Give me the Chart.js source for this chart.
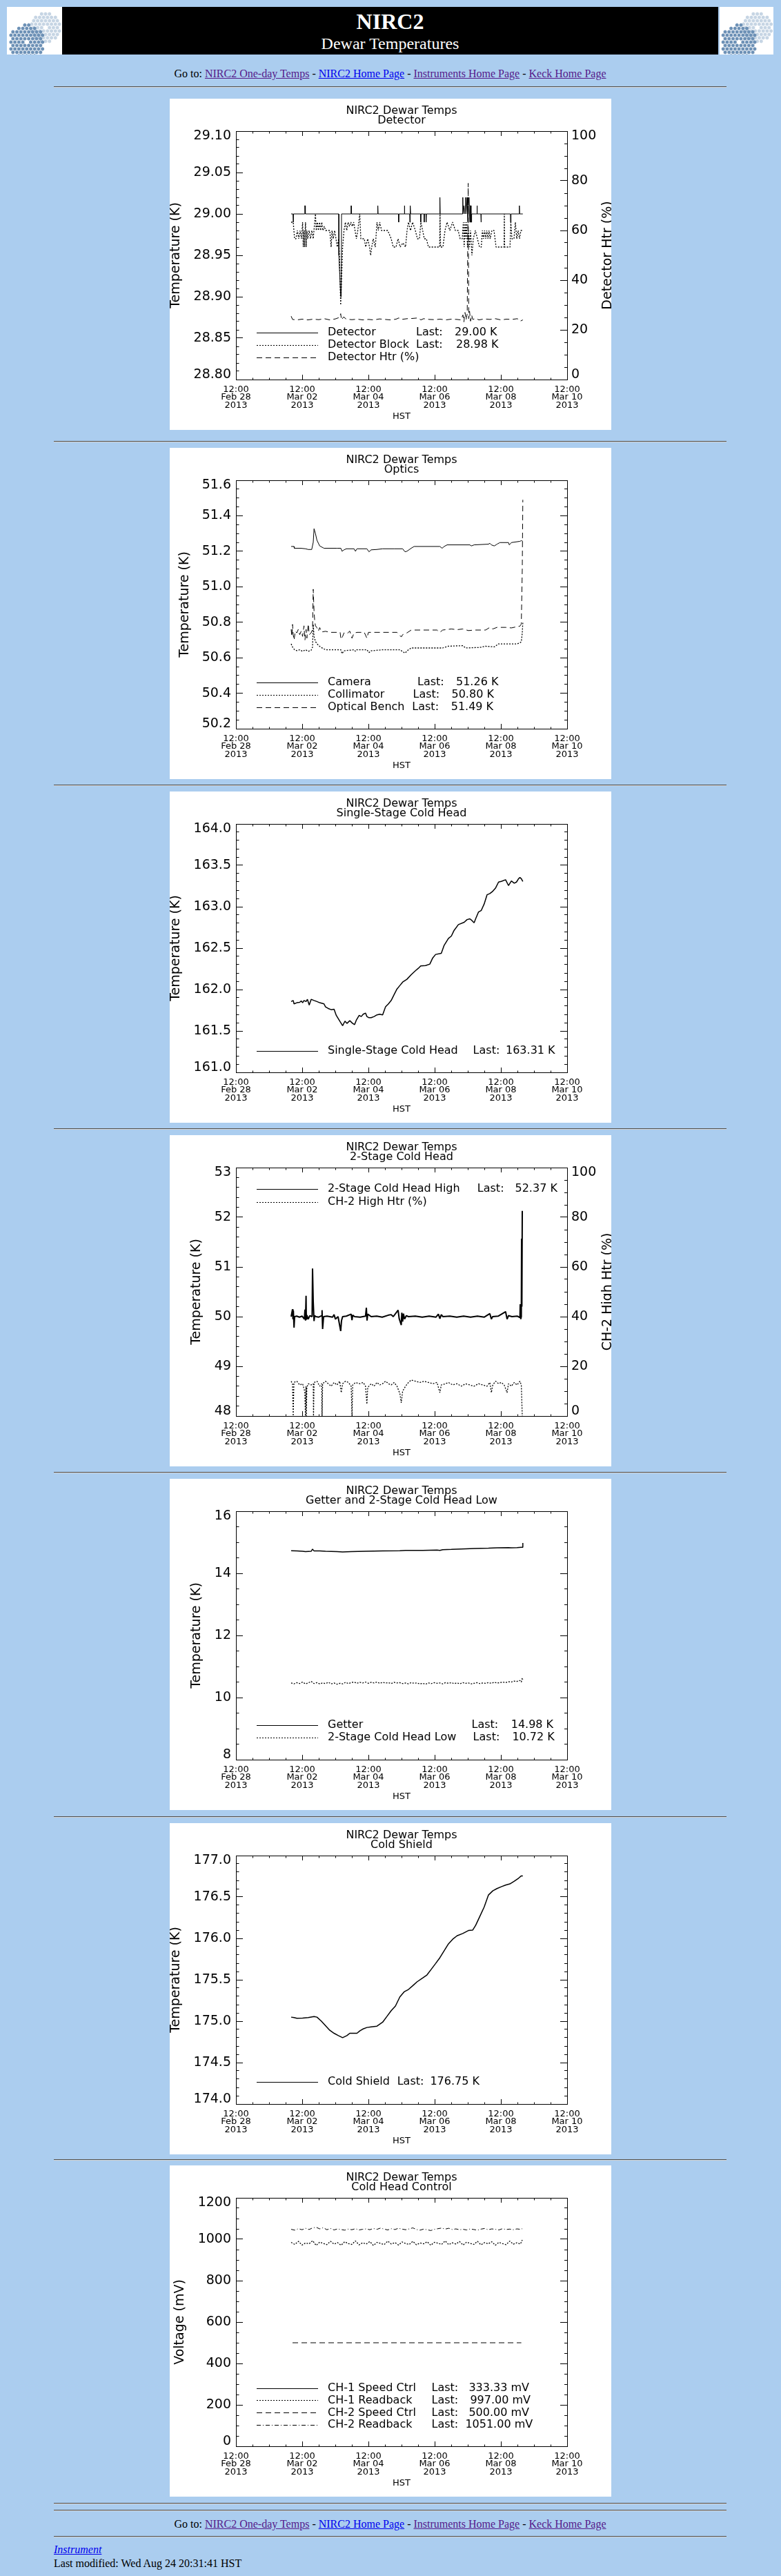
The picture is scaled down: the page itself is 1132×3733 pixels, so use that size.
<!DOCTYPE html>
<html>
<head>
<meta charset="utf-8">
<title>NIRC2 Dewar Temperatures</title>
<script src="https://cdn.jsdelivr.net/npm/chart.js@4.4.1/dist/chart.umd.min.js"></script>
<style>
html,body{margin:0;padding:0;background:#abcdef;}
body{width:1132px;height:3733px;position:relative;overflow:hidden;font-family:"Liberation Serif","Times New Roman",serif;color:#000;}
.abs{position:absolute;}
.hr{position:absolute;left:78px;width:975px;height:0;border-top:1px solid #505050;border-bottom:1px solid #d2d2d2;}
.nav{position:absolute;left:0;width:1131px;text-align:center;font-size:16px;line-height:16px;white-space:nowrap;}
a.v{color:#551a8b;} a.u{color:#0000ee;}
.panel{position:absolute;left:246px;width:640px;height:480px;background:#fff;overflow:hidden;}
.panel canvas{display:block;}
.foot{position:absolute;left:78px;font-size:16px;line-height:16px;white-space:nowrap;}
</style>
</head>
<body>
<div class="abs" id="logoL" style="left:10px;top:10px;width:80px;height:69px;background:#fff"></div>
<div class="abs" style="left:90px;top:10px;width:951px;height:69px;background:#000"></div>
<div class="abs" id="logoR" style="left:1043px;top:10px;width:78px;height:69px;background:#fff"></div>
<div class="abs" style="left:90px;width:951px;top:14.9px;text-align:center;color:#fff;font-size:32px;line-height:32px;font-weight:bold">NIRC2</div>
<div class="abs" style="left:90px;width:951px;top:50.6px;text-align:center;color:#fff;font-size:24px;line-height:24px">Dewar Temperatures</div>

<div class="nav" style="top:99.3px">Go to: <a class="v" href="#">NIRC2 One-day Temps</a> - <a class="u" href="#">NIRC2 Home Page</a> - <a class="v" href="#">Instruments Home Page</a> - <a class="v" href="#">Keck Home Page</a></div>
<div class="hr" style="top:125px"></div>

<div class="panel" style="top:143px"><canvas id="c1" width="640" height="480"></canvas></div>
<div class="hr" style="top:639px"></div>
<div class="panel" style="top:649px"><canvas id="c2" width="640" height="480"></canvas></div>
<div class="hr" style="top:1137px"></div>
<div class="panel" style="top:1147px"><canvas id="c3" width="640" height="480"></canvas></div>
<div class="hr" style="top:1635px"></div>
<div class="panel" style="top:1645px"><canvas id="c4" width="640" height="480"></canvas></div>
<div class="hr" style="top:2133px"></div>
<div class="panel" style="top:2143px"><canvas id="c5" width="640" height="480"></canvas></div>
<div class="hr" style="top:2632px"></div>
<div class="panel" style="top:2642px"><canvas id="c6" width="640" height="480"></canvas></div>
<div class="hr" style="top:3129px"></div>
<div class="panel" style="top:3138px"><canvas id="c7" width="640" height="480"></canvas></div>
<div class="hr" style="top:3627px"></div>
<div class="hr" style="top:3637px"></div>
<div class="nav" style="top:3650px">Go to: <a class="v" href="#">NIRC2 One-day Temps</a> - <a class="u" href="#">NIRC2 Home Page</a> - <a class="v" href="#">Instruments Home Page</a> - <a class="v" href="#">Keck Home Page</a></div>
<div class="hr" style="top:3675px"></div>
<div class="foot" style="top:3687px"><a class="u" href="#"><i>Instrument</i></a></div>
<div class="foot" style="top:3707px">Last modified: Wed Aug 24 20:31:41 HST</div>

<script>
// ---------------- common axis data ----------------
// x values are hours after Feb 28 2013 12:00 HST
const X_TICK_HOURS = [0, 48, 96, 144, 192, 240];
const X_TICK_TEXT = [
  ['12:00', 'Feb 28', '2013'], ['12:00', 'Mar 02', '2013'], ['12:00', 'Mar 04', '2013'],
  ['12:00', 'Mar 06', '2013'], ['12:00', 'Mar 08', '2013'], ['12:00', 'Mar 10', '2013']
];
const PCT_TICKS = ['0', '20', '40', '60', '80', '100'];

// ---------------- chart 1: Detector ----------------
const title1 = ['NIRC2 Dewar Temps', 'Detector'];
const yTicks1 = ['28.80', '28.85', '28.90', '28.95', '29.00', '29.05', '29.10'];
const names1 = ['Detector', 'Detector Block', 'Detector Htr (%)'];
const last1 = ['29.00 K', '28.98 K', ''];
const detector = [
  [40.0,29.00],[41.3,29.00],[41.5,28.99],[41.7,29.00],
  [49.7,29.00],[49.9,29.01],[50.1,29.01],[50.3,29.00],
  [74.5,29.00],[74.6,28.95],[75.9,28.90],[76.3,28.90],[76.5,29.00],
  [83.4,29.00],[83.5,29.01],[83.7,29.00],
  [102.7,29.00],[102.8,29.01],[103.0,29.00],
  [117.8,29.00],[117.9,28.99],[118.1,29.00],
  [122.0,29.00],[122.1,29.01],[122.3,29.00],
  [125.9,29.00],[126.0,28.99],[126.2,29.00],[126.4,29.01],[126.6,29.00],
  [133.8,29.00],[133.9,28.99],[134.1,29.00],
  [136.3,29.00],[136.4,28.99],[136.6,29.00],[137.7,29.00],[137.8,28.99],[138.0,29.00],
  [147.7,29.00],[147.8,29.02],[148.0,29.00],
  [164.2,29.00],[164.4,29.02],[164.6,29.00],[165.0,29.01],[165.4,29.01],[165.8,29.00],
  [166.2,29.01],[166.4,29.02],[166.7,29.00],[167.2,29.01],[167.5,29.02],[167.8,29.00],
  [168.1,28.99],[168.5,29.01],[168.9,29.02],[169.2,29.00],[169.5,28.99],[169.8,29.01],
  [170.2,29.01],[170.4,28.99],[170.6,28.99],[170.8,29.00],
  [174.6,29.00],[174.7,29.01],[174.9,29.00],
  [177.5,29.00],[177.6,28.99],[177.8,29.00],
  [198.9,29.00],[199.0,28.99],[199.3,28.99],[199.4,29.00],
  [205.3,29.00],[205.4,29.01],[205.6,29.00],[207.9,29.00]
];
const detectorBlock = [
  [40.0,28.99],[41.5,28.99],[42.5,28.97],[43.5,28.97],[44.5,28.98],[45.5,28.97],[46.5,28.98],[47.5,28.97],
  [48.3,28.99],[48.8,28.96],[49.3,28.98],[49.8,28.96],[50.4,28.99],[50.9,28.96],[51.4,28.98],[52.0,28.97],
  [53.0,28.98],[54.0,28.97],[55.0,28.98],[56.0,28.97],[57.6,29.00],[58.2,28.98],[59.0,28.99],[59.8,28.98],
  [60.6,28.99],[61.4,28.98],[62.2,28.99],[63.0,28.98],[64.0,28.985],[65.0,28.98],[66.5,28.98],[68.0,28.98],
  [69.0,28.96],[69.6,28.98],[70.5,28.97],[71.5,28.98],[72.5,28.97],[73.4,28.96],[74.4,28.97],[75.0,28.95],
  [75.9,28.89],[76.5,28.92],[77.3,28.96],[78.3,28.98],[79.3,28.99],[80.3,28.98],[81.3,28.99],[82.3,28.985],
  [83.3,28.99],[84.3,28.985],[85.3,28.99],[86.3,28.98],[87.3,28.97],[88.3,28.98],[89.7,29.00],[90.5,28.97],
  [91.8,28.97],[93.0,28.97],[94.0,28.96],[95.5,28.97],[96.8,28.96],[97.6,28.95],[98.4,28.96],[99.5,28.97],
  [101.0,28.96],[102.2,28.99],[103.2,28.98],[104.2,28.99],[105.5,28.98],[107.5,28.98],[110.0,28.98],[112.5,28.97],
  [114.0,28.96],[116.0,28.96],[117.5,28.97],[119.0,28.96],[121.0,28.965],[122.9,28.96],[124.0,28.98],[125.0,28.99],
  [126.5,28.98],[128.0,28.99],[130.0,28.98],[131.5,28.97],[133.0,28.97],[134.0,28.99],[135.3,28.98],[136.5,28.97],
  [138.0,28.97],[139.5,28.96],[142.0,28.96],[145.0,28.96],[147.6,28.96],[147.9,29.00],[148.3,28.96],[150.0,28.96],
  [151.5,28.98],[153.0,28.99],[155.0,28.98],[157.0,28.99],[159.0,28.98],[161.0,28.98],[162.5,28.97],[164.0,28.97],
  [164.8,28.99],[165.4,28.96],[166.0,28.99],[166.6,28.97],[167.2,28.99],[167.8,28.96],[168.5,28.98],[169.2,28.96],
  [170.0,28.98],[171.0,28.95],[172.0,28.97],[173.5,28.98],[175.0,28.97],[176.5,28.96],[177.8,28.96],[178.6,28.98],
  [179.4,28.97],[180.2,28.98],[181.0,28.97],[181.8,28.98],[182.6,28.97],[183.4,28.98],[184.2,28.97],[185.5,28.98],
  [187.0,28.98],[188.5,28.96],[191.0,28.96],[194.3,28.96],[194.5,29.00],[194.7,28.96],[197.0,28.96],[198.6,28.96],
  [199.2,28.99],[200.0,28.97],[201.5,28.97],[202.5,28.99],[203.5,28.97],[204.5,28.98],[205.5,28.97],[206.5,28.98],
  [207.9,28.98]
];
const detectorHtr = [
  [40.0,25.5],[41.0,24.2],[44,24.0],[48,24.3],[52,24.0],[56,24.3],[60,24.1],[64,24.5],[68,24.0],[72,24.4],
  [75.0,25.0],[75.9,26.5],[76.5,24.0],[78,25.2],[80,24.3],[84,24.1],[88,24.3],[92,24.0],[96,24.2],[100,24.0],
  [104,24.4],[108,24.2],[112,24.0],[116,24.3],[118,24.8],[120,24.2],[124,24.5],[128,24.6],[132,24.8],[134,24.0],
  [136,24.5],[140,24.2],[144,24.1],[148,24.3],[152,24.0],[156,24.3],[160,24.2],[163,24.0],[164.5,26.0],[165.2,23.2],
  [166.0,27.0],[166.8,24.0],[167.6,26.5],[168.3,79.0],[168.7,24.5],[169.3,27.5],[170.0,23.5],[170.8,26.0],[171.6,24.2],
  [174,24.6],[176,24.0],[180,24.4],[184,24.2],[188,24.5],[192,24.0],[196,24.3],[200,24.2],[204,24.5],[206,23.5],[207.9,24.0]
];

// ---------------- chart 2: Optics ----------------
const title2 = ['NIRC2 Dewar Temps', 'Optics'];
const yTicks2 = ['50.2', '50.4', '50.6', '50.8', '51.0', '51.2', '51.4', '51.6'];
const names2 = ['Camera', 'Collimator', 'Optical Bench'];
const last2 = ['51.26 K', '50.80 K', '51.49 K'];
const camera = [
  [40.0,51.227],[42.0,51.227],[42.3,51.217],[47.0,51.217],[50.4,51.214],[52.4,51.21],[54.9,51.21],[56.0,51.25],
  [56.6,51.327],[57.6,51.30],[58.7,51.262],[60.7,51.23],[63.8,51.217],[73.2,51.217],[76.0,51.217],[76.9,51.20],
  [78.3,51.208],[80,51.214],[85.6,51.214],[86.6,51.20],[87.7,51.214],[94.9,51.214],[96.4,51.197],[98.0,51.208],
  [102,51.21],[106.3,51.214],[114.6,51.214],[120.8,51.214],[122.5,51.197],[123.9,51.20],[127.0,51.217],[129.1,51.227],
  [147.8,51.227],[149.4,51.217],[150.9,51.227],[153.0,51.236],[169.5,51.236],[170.6,51.23],[172.6,51.236],[183.0,51.24],
  [184.0,51.245],[185.1,51.236],[187.2,51.23],[189.2,51.24],[191.3,51.249],[197.5,51.249],[198.1,51.236],[199.6,51.249],
  [205.8,51.256],[206.8,51.26],[207.9,51.256]
];
const collimator = [
  [40.0,50.678],[41.0,50.66],[42.5,50.645],[44.1,50.64],[46.2,50.645],[48.3,50.636],[50.4,50.645],[52.4,50.636],
  [54.5,50.642],[55.5,50.66],[56.0,50.788],[56.6,50.72],[57.6,50.691],[59.7,50.67],[61.8,50.658],[64.9,50.645],
  [73.2,50.645],[76.0,50.645],[76.9,50.623],[78.3,50.639],[85.6,50.645],[86.6,50.636],[87.7,50.645],[94.9,50.645],
  [96.4,50.629],[98.0,50.639],[106.3,50.645],[118.8,50.645],[122.5,50.626],[125.0,50.645],[127.0,50.655],[149.8,50.655],
  [154.0,50.665],[164.4,50.668],[166.4,50.655],[176.8,50.658],[180.9,50.665],[187.2,50.661],[190.3,50.678],[203.7,50.678],
  [205.8,50.684],[206.8,50.69],[207.5,50.74],[207.9,50.80]
];
const opticalBench = [
  [40.0,50.76],[40.5,50.72],[41.0,50.788],[41.5,50.73],[42.1,50.70],[43.0,50.75],[44.1,50.74],[45.2,50.76],
  [46.2,50.73],[47.3,50.75],[48.3,50.72],[49.3,50.78],[50.0,50.70],[50.8,50.76],[51.4,50.71],[52.4,50.79],
  [53.1,50.73],[54.5,50.74],[55.5,50.76],[56.0,50.986],[56.6,50.86],[57.0,50.814],[57.6,50.78],[58.7,50.769],
  [59.7,50.75],[60.7,50.77],[62.0,50.745],[64.9,50.749],[68.0,50.743],[73.2,50.743],[75.5,50.743],[76.1,50.704],
  [77.3,50.72],[78.3,50.74],[80.4,50.735],[82.5,50.75],[84.1,50.71],[85.6,50.74],[88.0,50.743],[93.0,50.743],
  [94.9,50.710],[96.0,50.743],[100,50.743],[110,50.743],[116.7,50.743],[119.8,50.717],[120.8,50.73],[123.9,50.74],
  [127.0,50.756],[140,50.756],[145.7,50.756],[147.8,50.743],[149.8,50.756],[156.1,50.762],[160.2,50.758],[164.4,50.762],
  [168.5,50.753],[172.6,50.756],[180.9,50.756],[184.0,50.771],[186.1,50.762],[189.2,50.771],[195.4,50.771],[199.6,50.768],
  [203.7,50.775],[205.8,50.778],[206.8,50.79],[207.5,51.10],[207.9,51.49]
];

// ---------------- chart 3: Single-Stage Cold Head ----------------
const title3 = ['NIRC2 Dewar Temps', 'Single-Stage Cold Head'];
const yTicks3 = ['161.0', '161.5', '162.0', '162.5', '163.0', '163.5', '164.0'];
const names3 = ['Single-Stage Cold Head'];
const last3 = ['163.31 K'];
const singleStage = [
  [40.0,161.855],[41.5,161.868],[42.1,161.827],[44.1,161.841],[46.2,161.846],[47.3,161.863],[48.3,161.841],[49.3,161.868],
  [50.8,161.855],[51.8,161.882],[53.1,161.813],[54.5,161.882],[56.6,161.868],[58.7,161.855],[60.7,161.841],[63.8,161.827],
  [64.9,161.791],[66.9,161.771],[69.0,161.757],[71.1,161.763],[72.7,161.688],[75.2,161.619],[77.3,161.563],[79.0,161.619],
  [80.4,161.591],[82.5,161.624],[84.6,161.591],[86.0,161.577],[87.3,161.633],[89.3,161.688],[90.8,161.674],[92.2,161.702],
  [93.9,161.716],[94.9,161.674],[96.4,161.660],[98.0,161.660],[100.1,161.674],[102.2,161.694],[104.2,161.702],[106.3,161.694],
  [108.4,161.791],[110.5,161.827],[112.5,161.868],[114.6,161.938],[116.7,162.007],[118.8,162.049],[120.8,162.090],[123.9,162.124],
  [127.0,162.179],[130.2,162.229],[132.2,162.257],[133.9,162.285],[137.4,162.290],[140.5,162.307],[142.6,162.382],[144.7,162.424],
  [148.8,162.437],[150.9,162.535],[154.0,162.618],[156.1,162.646],[158.1,162.715],[161.2,162.784],[165.4,162.812],[167.5,162.845],
  [169.5,162.854],[171.0,162.834],[172.6,162.807],[173.7,162.854],[175.8,162.937],[177.8,162.956],[179.9,163.034],[182.0,163.145],
  [184.0,163.159],[186.1,163.187],[188.2,163.228],[190.3,163.298],[192.3,163.306],[195.4,163.326],[197.5,163.256],[199.6,163.312],
  [201.7,163.284],[203.3,163.298],[204.8,163.339],[205.8,163.353],[206.8,163.339],[207.9,163.306]
];

// ---------------- chart 4: 2-Stage Cold Head ----------------
const title4 = ['NIRC2 Dewar Temps', '2-Stage Cold Head'];
const yTicks4 = ['48', '49', '50', '51', '52', '53'];
const names4 = ['2-Stage Cold Head High', 'CH-2 High Htr (%)'];
const last4 = ['52.37 K', ''];
const twoStageHigh = [
  [40.0,50.0],[41.0,50.15],[41.3,49.95],[41.6,50.12],[42.1,49.78],[42.5,50.0],[44,50.01],[46,49.99],[48,50.01],
  [49.6,49.95],[50.0,50.14],[50.4,49.92],[50.8,50.42],[51.0,49.95],[51.4,50.03],[52.4,49.95],[53.5,50.02],[55.2,50.0],
  [55.5,50.97],[56.0,50.30],[56.6,49.91],[57.0,50.02],[58,50.0],[60,49.99],[62.2,50.02],[62.4,50.13],[62.8,49.75],
  [63.5,50.0],[66,50.01],[70,49.99],[71.1,50.04],[72.1,49.95],[74,50.0],[75.9,49.71],[76.5,49.92],[77.3,50.0],
  [80,50.01],[83.5,50.05],[84.1,49.93],[84.6,50.03],[86,50.0],[90,49.99],[93.9,50.01],[94.5,50.18],[95.0,49.92],
  [95.5,50.05],[98,50.0],[102,50.01],[106,49.99],[110.5,50.03],[112.5,50.04],[114,50.0],[117.5,50.13],[118.3,49.96],
  [119.8,49.83],[120.2,50.08],[120.8,49.90],[121.4,50.06],[122.2,49.95],[123.5,50.02],[125,50.0],[130,50.01],[135,49.99],
  [140,50.01],[145,49.99],[146.7,50.05],[147.8,49.96],[148.8,50.04],[150,50.0],[155,50.01],[160,49.99],[165,50.01],
  [170,49.99],[175,50.01],[180,49.99],[184.0,50.06],[185.1,49.95],[186,50.0],[190,50.01],[195.4,50.1],[196.5,49.95],
  [197.5,50.02],[200,50.0],[204,50.01],[205.8,49.98],[206.0,50.25],[206.4,49.95],[206.8,50.0],[207.0,51.57],[207.2,50.2],
  [207.5,52.13]
];
const ch2HighHtr = [
  [40.0,14.0],[41.0,13.0],[41.5,0],[42.0,13.5],[44.1,14.0],[46.2,12.5],[48.3,13.0],[49.8,10.0],[50.4,0],[50.8,12.0],
  [51.0,0],[51.4,11.5],[52.4,13.0],[54.5,12.5],[56.0,13.0],[56.2,0],[56.6,13.5],[58.7,14.0],[60.7,12.0],[62.2,13.0],
  [62.4,0],[62.8,13.0],[64.9,14.0],[66.9,13.0],[69.0,12.0],[71.1,13.5],[73.2,12.5],[75.2,14.0],[76.3,9.4],[77.3,13.0],
  [79.4,14.0],[81.5,13.5],[83.5,12.0],[84.1,0],[84.6,12.5],[86.6,13.5],[89.7,13.0],[92.2,13.5],[93.9,12.0],[94.9,4.8],
  [95.5,11.5],[98.0,13.0],[100.1,12.0],[102.2,13.5],[104.2,12.5],[106.3,13.0],[108.4,14.0],[110.5,13.0],[112.5,12.5],[114.6,13.5],
  [116.7,12.0],[118.8,9.0],[119.8,5.3],[120.8,10.0],[122.9,12.0],[125.0,13.5],[127.0,14.5],[130.2,14.0],[133.3,13.5],[136.4,14.0],
  [139.5,13.5],[142.6,13.0],[145.7,13.5],[147.8,9.4],[148.8,12.5],[151.9,13.0],[154.0,13.5],[157.1,12.5],[160.2,13.0],[163.3,12.0],
  [166.4,13.0],[169.5,12.5],[172.6,12.0],[175.8,13.0],[178.9,12.5],[181.9,12.0],[184.0,13.5],[185.1,9.4],[186.1,12.5],[188.2,14.0],
  [190.3,13.0],[192.3,13.5],[194.4,12.5],[196.5,9.4],[197.5,13.0],[199.6,12.0],[201.7,13.5],[203.7,12.5],[205.8,14.0],[206.8,12.5],
  [207.5,0]
];

// ---------------- chart 5: Getter and 2-Stage Cold Head Low ----------------
const title5 = ['NIRC2 Dewar Temps', 'Getter and 2-Stage Cold Head Low'];
const yTicks5 = ['8', '10', '12', '14', '16'];
const names5 = ['Getter', '2-Stage Cold Head Low'];
const last5 = ['14.98 K', '10.72 K'];
const getter = [
  [40.0,14.73],[44.1,14.72],[48.3,14.71],[50.4,14.70],[54.5,14.71],[55.5,14.78],[56.6,14.72],[60.7,14.72],
  [64.9,14.71],[73.2,14.70],[77.3,14.69],[83.5,14.70],[93.9,14.71],[106.3,14.72],[118.8,14.73],[122.9,14.74],
  [135.3,14.74],[145.7,14.75],[147.8,14.74],[149.8,14.76],[156.1,14.77],[166.4,14.79],[172.6,14.80],[183.0,14.81],
  [189.2,14.82],[197.5,14.83],[199.6,14.82],[203.7,14.83],[206.8,14.84],[207.5,14.84],[207.9,14.98]
];
const twoStageLow = [
  [40.0,10.47],[42.0,10.44],[44.1,10.48],[46.2,10.45],[48.3,10.50],[50.4,10.44],[52.4,10.47],[54.5,10.52],
  [56.6,10.45],[58.7,10.48],[60.7,10.44],[62.8,10.47],[64.9,10.45],[67.0,10.49],[69.0,10.44],[71.1,10.47],
  [73.2,10.43],[75.2,10.46],[77.3,10.44],[79.4,10.49],[81.5,10.45],[83.5,10.48],[85.6,10.50],[87.7,10.46],
  [89.7,10.49],[91.8,10.47],[93.9,10.50],[96.0,10.46],[98.0,10.49],[100.1,10.47],[102.2,10.50],[104.2,10.46],
  [106.3,10.49],[108.4,10.47],[110.5,10.48],[112.5,10.45],[114.6,10.49],[116.7,10.47],[118.8,10.48],[120.8,10.45],
  [122.9,10.47],[125.0,10.44],[127.0,10.48],[129.1,10.46],[131.2,10.47],[133.3,10.44],[135.3,10.46],[137.4,10.43],
  [139.5,10.47],[141.6,10.45],[143.6,10.48],[145.7,10.46],[147.8,10.47],[149.8,10.44],[151.9,10.48],[154.0,10.46],
  [156.1,10.48],[158.1,10.45],[160.2,10.47],[162.3,10.44],[164.4,10.48],[166.4,10.46],[168.5,10.47],[170.6,10.44],
  [172.6,10.46],[174.7,10.48],[176.8,10.45],[178.9,10.47],[180.9,10.46],[183.0,10.48],[185.1,10.46],[187.2,10.49],
  [189.2,10.47],[191.3,10.48],[193.4,10.50],[195.4,10.48],[197.5,10.51],[199.6,10.50],[201.7,10.53],[203.7,10.52],
  [205.8,10.55],[206.8,10.50],[207.5,10.63],[207.9,10.58]
];

// ---------------- chart 6: Cold Shield ----------------
const title6 = ['NIRC2 Dewar Temps', 'Cold Shield'];
const yTicks6 = ['174.0', '174.5', '175.0', '175.5', '176.0', '176.5', '177.0'];
const names6 = ['Cold Shield'];
const last6 = ['176.75 K'];
const coldShield = [
  [40.0,175.049],[42.1,175.043],[44.1,175.035],[48.3,175.038],[52.4,175.043],[56.6,175.057],[58.7,175.049],[61.8,175.002],
  [64.9,174.946],[68.0,174.890],[71.1,174.854],[74.2,174.826],[77.3,174.801],[80.4,174.826],[82.5,174.854],[87.7,174.854],
  [89.7,174.882],[91.8,174.904],[94.9,174.924],[98.0,174.932],[102.2,174.940],[106.3,174.988],[109.4,175.057],[112.5,175.127],
  [115.6,175.183],[118.8,175.294],[121.9,175.355],[125.0,175.383],[128.1,175.428],[131.2,175.475],[135.3,175.522],[138.4,175.558],
  [141.6,175.628],[144.7,175.697],[147.8,175.767],[150.9,175.851],[154.0,175.934],[157.1,175.990],[160.2,176.031],[164.4,176.059],
  [168.5,176.095],[171.6,176.101],[173.7,176.157],[176.8,176.268],[179.9,176.379],[183.0,176.524],[186.1,176.574],[189.2,176.602],
  [192.3,176.624],[195.4,176.644],[198.5,176.658],[201.7,176.691],[204.8,176.727],[206.8,176.755],[207.9,176.755]
];

// ---------------- chart 7: Cold Head Control ----------------
const title7 = ['NIRC2 Dewar Temps', 'Cold Head Control'];
const yTicks7 = ['0', '200', '400', '600', '800', '1000', '1200'];
const names7 = ['CH-1 Speed Ctrl', 'CH-1 Readback', 'CH-2 Speed Ctrl', 'CH-2 Readback'];
const last7 = ['333.33 mV', '997.00 mV', '500.00 mV', '1051.00 mV'];
const ch1Speed = [];
const ch1Readback = [
  [40.0,985],[42.6,975],[45.3,990],[47.9,972],[50.4,982],[53.0,978],[55.6,993],[58.1,970],[60.7,986],[63.3,980],
  [65.9,974],[68.5,990],[71.1,976],[73.6,984],[76.2,971],[78.8,988],[81.4,979],[84.0,975],[86.6,992],[89.2,973],
  [91.8,983],[94.4,977],[97.0,989],[99.6,970],[102.2,985],[104.8,980],[107.4,974],[110.0,991],[112.6,977],[115.2,984],
  [117.8,972],[120.4,987],[123.0,979],[125.6,975],[128.2,990],[130.8,973],[133.4,982],[136.0,978],[138.6,988],[141.2,971],
  [143.8,985],[146.4,981],[149.0,975],[151.6,992],[154.2,974],[156.8,983],[159.4,977],[162.0,989],[164.6,972],[167.2,986],
  [169.8,980],[172.4,975],[175.0,990],[177.6,973],[180.2,984],[182.8,978],[185.4,988],[188.0,971],[190.6,985],[193.2,979],
  [195.8,974],[198.4,991],[201.0,976],[203.6,983],[206.2,977],[207.5,997]
];
const ch2Speed = [[41.0,500],[206.8,500]];
const ch2Readback = [
  [40.0,1048],[42.6,1044],[45.3,1051],[47.9,1046],[50.4,1053],[53.0,1047],[55.6,1055],[58.1,1058],[60.7,1050],[63.3,1056],
  [65.9,1046],[68.5,1052],[71.1,1045],[73.6,1050],[76.2,1047],[78.8,1044],[81.4,1049],[84.0,1046],[86.6,1051],[89.2,1045],
  [91.8,1048],[94.4,1050],[97.0,1046],[99.6,1052],[102.2,1048],[104.8,1054],[107.4,1049],[110.0,1045],[112.6,1051],[115.2,1047],
  [117.8,1053],[120.4,1049],[123.0,1046],[125.6,1050],[128.2,1055],[130.8,1047],[133.4,1044],[136.0,1049],[138.6,1046],[141.2,1042],
  [143.8,1048],[146.4,1051],[149.0,1054],[151.6,1049],[154.2,1053],[156.8,1047],[159.4,1050],[162.0,1046],[164.6,1048],[167.2,1045],
  [169.8,1050],[172.4,1047],[175.0,1044],[177.6,1049],[180.2,1052],[182.8,1046],[185.4,1050],[188.0,1048],[190.6,1045],[193.2,1051],
  [195.8,1047],[198.4,1049],[201.0,1046],[203.6,1050],[206.2,1048],[207.5,1051]
];

// ---------------- styles ----------------
const SOLID = [], DOT = [2, 2], DASH = [8, 5], DASHDOT = [6, 3, 1, 3];
const FONT = 'DejaVu Sans';
Chart.defaults.font.family = FONT;
Chart.defaults.color = '#000';

function buildTicks(vals, labels, minorPer, edgeShift) {
  const out = [];
  for (let i = 0; i < vals.length; i++) {
    let lbl = labels[i];
    if (edgeShift) {
      if (i === 0) lbl = [labels[i], ''];
      else if (i === vals.length - 1) lbl = ['', labels[i]];
    }
    out.push({value: vals[i], lbl: lbl, minorTick: false});
    if (i < vals.length - 1) {
      const st = (vals[i + 1] - vals[i]) / minorPer;
      for (let k = 1; k < minorPer; k++) out.push({value: vals[i] + k * st, lbl: '', minorTick: true});
    }
  }
  return out;
}

function axis(pos, min, max, tickFn, showLabels, font, pad, tl, minorDash, fitFn) {
  return {
    type: 'linear', position: pos, min: min, max: max, display: true,
    afterBuildTicks: s => { s.ticks = tickFn(); },
    afterFit: fitFn,
    ticks: {display: showLabels, autoSkip: false, maxRotation: 0, minRotation: 0, padding: pad,
      color: '#000', font: font, callback: (v, i, t) => t[i].lbl},
    grid: {display: true, drawOnChartArea: false, drawTicks: true, tickLength: tl, tickColor: '#000', tickWidth: 1,
      tickBorderDash: c => (c.tick && c.tick.minorTick) ? minorDash : []},
    border: {display: true, color: '#000', width: 1}
  };
}

const idlDecor = {
  id: 'idlDecor',
  afterDraw(chart, args, opts) {
    const ctx = chart.ctx, ca = chart.chartArea;
    ctx.save();
    ctx.fillStyle = '#000'; ctx.strokeStyle = '#000'; ctx.lineWidth = 1;
    ctx.font = '16px "' + FONT + '"'; ctx.textBaseline = 'middle'; ctx.textAlign = 'left';
    (opts.rows || []).forEach(r => {
      const ds = chart.data.datasets[r.ds];
      ctx.beginPath(); ctx.setLineDash(ds.borderDash || []);
      ctx.moveTo(ca.left + 30, Math.round(r.y) + 0.5); ctx.lineTo(ca.left + 119, Math.round(r.y) + 0.5); ctx.stroke();
      ctx.setLineDash([]);
      ctx.fillText(ds.label, ca.left + 133, r.y);
      if (r.val) { ctx.fillText('Last:', r.lastX, r.y); ctx.fillText(r.val, r.valX, r.y); }
    });
    if (opts.rightTitle) {
      ctx.font = '19px "' + FONT + '"'; ctx.textAlign = 'center'; ctx.textBaseline = 'alphabetic';
      ctx.translate(640, (ca.top + ca.bottom) / 2); ctx.rotate(-Math.PI / 2);
      ctx.fillText(opts.rightTitle, 0, 0);
    }
    ctx.restore();
  }
};

function makeChart(id, spec) {
  const xT = () => buildTicks(X_TICK_HOURS, X_TICK_TEXT, 4, false);
  const yVals = spec.yLabels.map(Number);
  const yT = () => buildTicks(yVals, spec.yLabels, spec.yMinor, true);
  const yMin = yVals[0], yMax = yVals[yVals.length - 1];
  const scales = {
    x: Object.assign(axis('bottom', 0, 240, xT, true, {size: 13, lineHeight: 0.9}, 15.45, -7, [3.5, 100], s => { s.height = 73; }), {
      title: {display: true, text: 'HST', color: '#000', font: {size: 13, lineHeight: 1}, padding: {top: 0, bottom: 12.5}}
    }),
    xt: axis('top', 0, 240, xT, false, {size: 13}, 0, -7, [0, 3.5, 4, 100], s => { s.height = 0; }),
    y: Object.assign(axis('left', yMin, yMax, yT, true, {size: 19, lineHeight: 0.72}, 17, -10, [0, 5.5, 5, 100], s => { s.width = 96; }), {
      title: {display: true, text: spec.yTitle, color: '#000', font: {size: 19, lineHeight: 1}, padding: {top: spec.yTitlePad, bottom: 0}}
    })
  };
  if (spec.y2Labels) {
    const v2 = spec.y2Labels.map(Number);
    scales.y2 = axis('right', v2[0], v2[v2.length - 1], () => buildTicks(v2, spec.y2Labels, 4, true), true,
      {size: 19, lineHeight: 0.72}, 16, -10, [5, 100], s => { s.width = 64; });
  } else {
    scales.y2 = axis('right', yMin, yMax, yT, false, {size: 19}, 0, -10, [5, 100], s => { s.width = 64; });
  }
  new Chart(document.getElementById(id), {
    type: 'line',
    data: {
      datasets: spec.series.map(s => ({
        label: s.label,
        data: s.data.map(p => ({x: p[0], y: p[1]})),
        borderColor: '#000', backgroundColor: '#000',
        borderWidth: s.width || (s.dash === DOT ? 1.3 : 1), borderDash: s.dash,
        borderJoinStyle: 'bevel', pointRadius: 0, fill: false, tension: 0,
        xAxisID: 'x', yAxisID: s.axis || 'y'
      }))
    },
    options: {
      responsive: false, animation: false, events: [],
      layout: {padding: 0, autoPadding: false},
      scales: scales,
      plugins: {
        legend: {display: false}, tooltip: {enabled: false},
        title: {display: true, text: spec.title, fullSize: false, color: '#000',
          font: {size: 16, weight: 'normal', lineHeight: 14.5 / 16}, padding: {top: 10.55, bottom: 7.45}},
        idlDecor: {rows: spec.legend, rightTitle: spec.rightTitle || ''}
      }
    },
    plugins: [idlDecor]
  });
}

makeChart('c1', {
  title: title1, yLabels: yTicks1, yMinor: 5, yTitle: 'Temperature (K)', yTitlePad: -0.2,
  y2Labels: PCT_TICKS, rightTitle: 'Detector Htr (%)',
  series: [
    {label: names1[0], data: detector, dash: SOLID},
    {label: names1[1], data: detectorBlock, dash: DOT},
    {label: names1[2], data: detectorHtr, dash: DASH, axis: 'y2'}
  ],
  legend: [
    {ds: 0, y: 339, lastX: 357, valX: 413, val: last1[0]},
    {ds: 1, y: 357, lastX: 357, valX: 415, val: last1[1]},
    {ds: 2, y: 375, val: last1[2]}
  ]
});
makeChart('c2', {
  title: title2, yLabels: yTicks2, yMinor: 4, yTitle: 'Temperature (K)', yTitlePad: 12.5,
  series: [
    {label: names2[0], data: camera, dash: SOLID},
    {label: names2[1], data: collimator, dash: DOT},
    {label: names2[2], data: opticalBench, dash: DASH}
  ],
  legend: [
    {ds: 0, y: 340, lastX: 359, valX: 415, val: last2[0]},
    {ds: 1, y: 358, lastX: 352.5, valX: 408.5, val: last2[1]},
    {ds: 2, y: 376, lastX: 351.3, valX: 407.7, val: last2[2]}
  ]
});
makeChart('c3', {
  title: title3, yLabels: yTicks3, yMinor: 5, yTitle: 'Temperature (K)', yTitlePad: -0.7,
  series: [{label: names3[0], data: singleStage, dash: SOLID, width: 1.5}],
  legend: [{ds: 0, y: 375.7, lastX: 439.6, valX: 487, val: last3[0]}]
});
makeChart('c4', {
  title: title4, yLabels: yTicks4, yMinor: 5, yTitle: 'Temperature (K)', yTitlePad: 29.8,
  y2Labels: PCT_TICKS, rightTitle: 'CH-2 High Htr (%)',
  series: [
    {label: names4[0], data: twoStageHigh, dash: SOLID, width: 2},
    {label: names4[1], data: ch2HighHtr, dash: DOT, axis: 'y2'}
  ],
  legend: [
    {ds: 0, y: 78.3, lastX: 445.8, valX: 500.5, val: last4[0]},
    {ds: 1, y: 96.7, val: last4[1]}
  ]
});
makeChart('c5', {
  title: title5, yLabels: yTicks5, yMinor: 4, yTitle: 'Temperature (K)', yTitlePad: 29.8,
  series: [
    {label: names5[0], data: getter, dash: SOLID, width: 1.5},
    {label: names5[1], data: twoStageLow, dash: DOT}
  ],
  legend: [
    {ds: 0, y: 356.7, lastX: 437.5, valX: 494.7, val: last5[0]},
    {ds: 1, y: 375, lastX: 439.6, valX: 496.4, val: last5[1]}
  ]
});
makeChart('c6', {
  title: title6, yLabels: yTicks6, yMinor: 5, yTitle: 'Temperature (K)', yTitlePad: -0.7,
  series: [{label: names6[0], data: coldShield, dash: SOLID, width: 1.5}],
  legend: [{ds: 0, y: 375, lastX: 329.7, valX: 377.4, val: last6[0]}]
});
makeChart('c7', {
  title: title7, yLabels: yTicks7, yMinor: 4, yTitle: 'Voltage (mV)', yTitlePad: 5.1,
  series: [
    {label: names7[0], data: ch1Speed, dash: SOLID},
    {label: names7[1], data: ch1Readback, dash: DOT},
    {label: names7[2], data: ch2Speed, dash: DASH},
    {label: names7[3], data: ch2Readback, dash: DASHDOT}
  ],
  legend: [
    {ds: 0, y: 322.7, lastX: 379.5, valX: 433.4, val: last7[0]},
    {ds: 1, y: 340.4, lastX: 379.5, valX: 435.4, val: last7[1]},
    {ds: 2, y: 358.4, lastX: 379.5, valX: 433.4, val: last7[2]},
    {ds: 3, y: 376, lastX: 379.5, valX: 428.4, val: last7[3]}
  ]
});

// ---------------- Keck logo (decoration) ----------------
function drawLogo(el) {
  const ns = 'http://www.w3.org/2000/svg';
  const W = el.clientWidth, H = 69;
  const svg = document.createElementNS(ns, 'svg');
  svg.setAttribute('width', W); svg.setAttribute('height', H);
  const r = 3.3, dx = r * Math.sqrt(3), dy = r * 1.5;
  const clusters = [
    {cx: W * 0.70, cy: 30, R: 25, col: '#c6d5e4'},
    {cx: W * 0.36, cy: 51, R: 27, col: '#6d91b6'}
  ];
  clusters.forEach(c => {
    for (let j = -10; j <= 10; j++) {
      for (let i = -10; i <= 10; i++) {
        const x = c.cx + i * dx + ((j & 1) ? dx / 2 : 0), y = c.cy + j * dy;
        const ax = Math.abs(x - c.cx), ay = Math.abs(y - c.cy);
        if (ax > c.R * 0.866 || ay + ax / Math.sqrt(3) > c.R) continue;
        if (Math.hypot(x - c.cx, y - c.cy) < 4.5) continue;
        let pts = '';
        for (let k = 0; k < 6; k++) {
          const a = Math.PI / 3 * k + Math.PI / 6;
          pts += (x + (r - 0.55) * Math.cos(a)).toFixed(2) + ',' + (y + (r - 0.55) * Math.sin(a)).toFixed(2) + ' ';
        }
        const p = document.createElementNS(ns, 'polygon');
        p.setAttribute('points', pts); p.setAttribute('fill', c.col);
        svg.appendChild(p);
      }
    }
  });
  el.appendChild(svg);
}
drawLogo(document.getElementById('logoL'));
drawLogo(document.getElementById('logoR'));
</script>
</body>
</html>
